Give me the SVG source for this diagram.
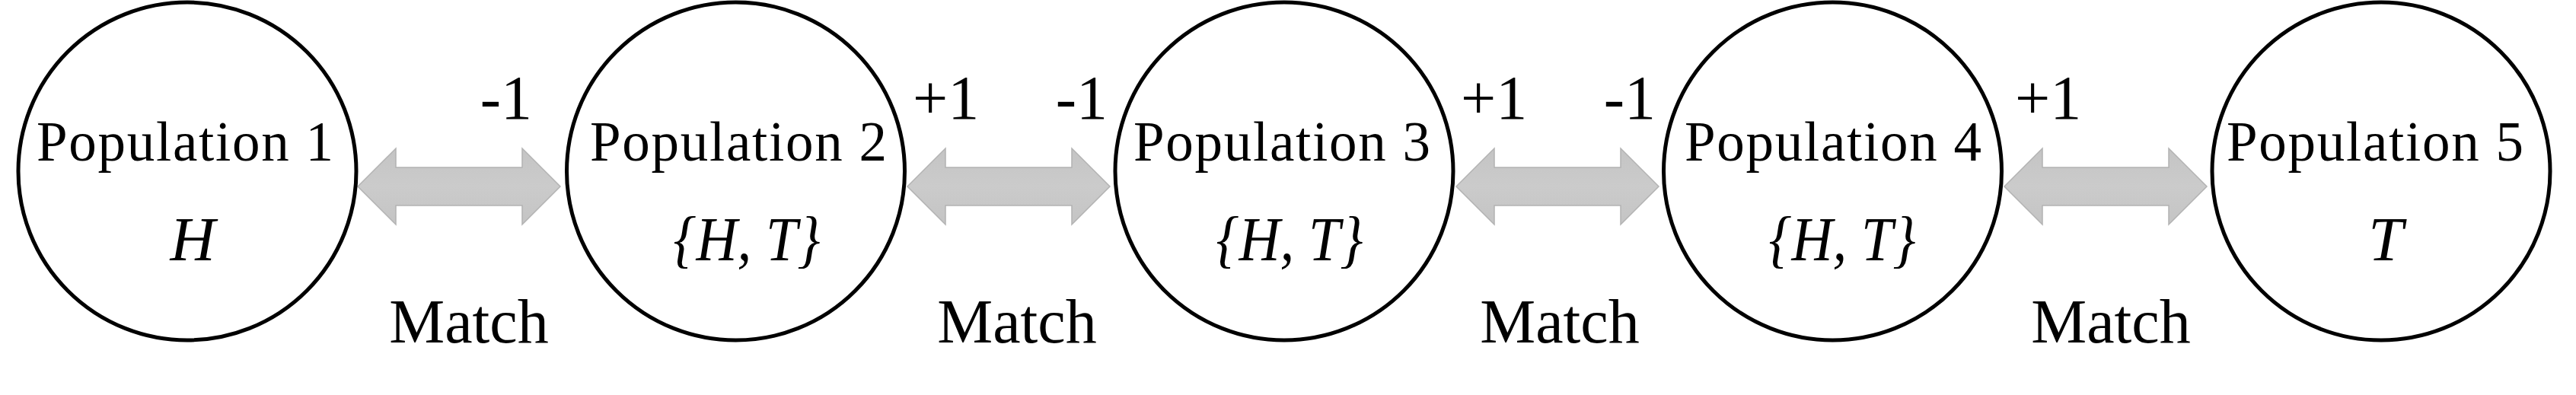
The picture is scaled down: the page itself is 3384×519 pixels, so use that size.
<svg xmlns="http://www.w3.org/2000/svg" width="3384" height="519" viewBox="0 0 3384 519">
<style>
.node{fill:#ffffff;stroke:#000000;stroke-width:5}
.pop{font-family:"Liberation Serif","Times New Roman",serif;font-size:73px;fill:#000;text-anchor:middle}
.set{font-family:"Liberation Serif","Times New Roman",serif;font-style:italic;font-size:82px;fill:#000;text-anchor:middle}
.lbl{font-family:"Liberation Serif","Times New Roman",serif;font-size:82px;fill:#000}
.arrow{fill:url(#ag);stroke:#b3b3b3;stroke-width:1.5}
</style>
<defs>
<linearGradient id="ag" x1="0" y1="0" x2="0" y2="1">
<stop offset="0" stop-color="#c4c4c4"/>
<stop offset="0.5" stop-color="#cbcbcb"/>
<stop offset="1" stop-color="#c4c4c4"/>
</linearGradient>
<path id="dbl" d="M0,245 L50,195 L50,220 L216,220 L216,195 L266,245 L216,295 L216,270 L50,270 L50,295 Z"/>
</defs>
<rect width="3384" height="519" fill="#ffffff"/>
<g id="connectors">
<g id="link-1-2">
<use href="#dbl" class="arrow" x="470"/>
<text class="lbl" x="699" y="156" text-anchor="end">-1</text>
<text class="lbl" x="616" y="450" text-anchor="middle">Match</text>
</g>
<g id="link-2-3">
<use href="#dbl" class="arrow" x="1192"/>
<text class="lbl" x="1199" y="156">+1</text>
<text class="lbl" x="1455" y="156" text-anchor="end">-1</text>
<text class="lbl" x="1336" y="450" text-anchor="middle">Match</text>
</g>
<g id="link-3-4">
<use href="#dbl" class="arrow" x="1913"/>
<text class="lbl" x="1919" y="156">+1</text>
<text class="lbl" x="2175" y="156" text-anchor="end">-1</text>
<text class="lbl" x="2049" y="450" text-anchor="middle">Match</text>
</g>
<g id="link-4-5">
<use href="#dbl" class="arrow" x="2633"/>
<text class="lbl" x="2647" y="156">+1</text>
<text class="lbl" x="2773" y="450" text-anchor="middle">Match</text>
</g>
</g>
<g id="population-1">
<circle class="node" cx="246" cy="225" r="222"/>
<text class="pop" x="243" y="211" textLength="390" lengthAdjust="spacing">Population 1</text>
<text class="set" x="253" y="342">H</text>
</g>
<g id="population-2">
<circle class="node" cx="966.5" cy="225" r="222"/>
<text class="pop" x="970" y="211" textLength="390" lengthAdjust="spacing">Population 2</text>
<text class="set" x="981" y="342" textLength="193" lengthAdjust="spacingAndGlyphs">{H, T}</text>
</g>
<g id="population-3">
<circle class="node" cx="1687" cy="225" r="222"/>
<text class="pop" x="1684" y="211" textLength="390" lengthAdjust="spacing">Population 3</text>
<text class="set" x="1694" y="342" textLength="193" lengthAdjust="spacingAndGlyphs">{H, T}</text>
</g>
<g id="population-4">
<circle class="node" cx="2407.5" cy="225" r="222"/>
<text class="pop" x="2408" y="211" textLength="390" lengthAdjust="spacing">Population 4</text>
<text class="set" x="2420" y="342" textLength="193" lengthAdjust="spacingAndGlyphs">{H, T}</text>
</g>
<g id="population-5">
<circle class="node" cx="3128" cy="225" r="222"/>
<text class="pop" x="3120" y="211" textLength="390" lengthAdjust="spacing">Population 5</text>
<text class="set" x="3134" y="342">T</text>
</g>
</svg>
